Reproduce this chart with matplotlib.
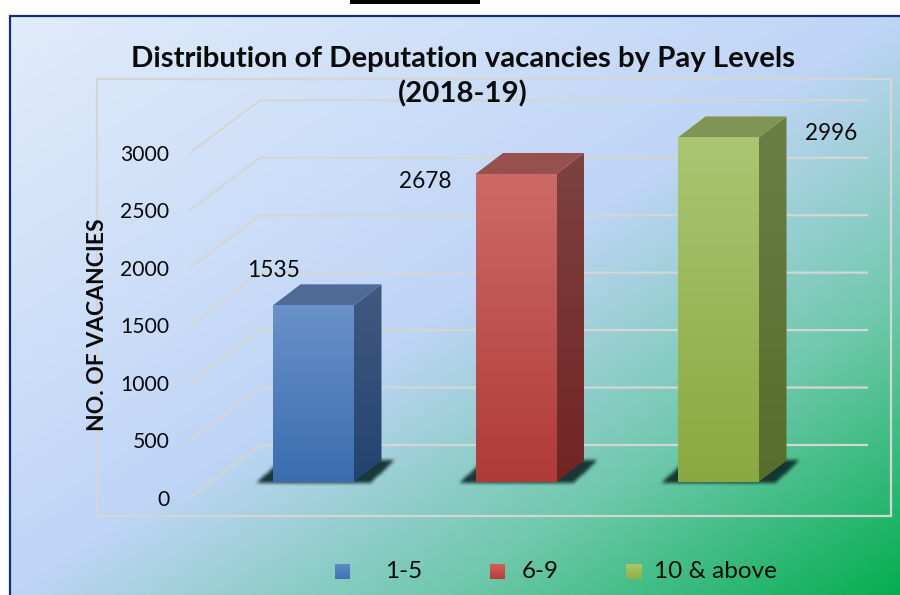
import numpy as np
import matplotlib
matplotlib.use("Agg")
import matplotlib.pyplot as plt
from matplotlib.colors import LinearSegmentedColormap, to_rgb
from matplotlib.patches import Polygon, Rectangle
from matplotlib.transforms import ScaledTranslation

# ---------- data ----------
categories = ["1-5", "6-9", "10 & above"]
values = [1535, 2678, 2996]
y_ticks = [0, 500, 1000, 1500, 2000, 2500, 3000]
title = "Distribution of Deputation vacancies by Pay Levels\n(2018-19)"
y_label = "NO. OF VACANCIES"

# ---------- style ----------
FONT = "Lato"
W, H = 900, 595
PX_PER_VAL = 57.45 / 500
PX_PER_CAT = 202.5
X0_PX, BASE_PX = 313.5, 481.7
BAR_W = 81 / PX_PER_CAT
DX, DY = 27.5 / PX_PER_CAT, 21 / PX_PER_VAL
AX_LEFT = 190
front_cols = [("#6a91c9", "#3a6daf"), ("#cc6a68", "#b03a38"), ("#a9c672", "#8aa93f")]
side_cols = [("#42597f", "#234470"), ("#7c4240", "#722424"), ("#6b7f45", "#586c2c")]
top_cols = ["#4f6b95", "#96504d", "#7f9553"]
legend_cols = [("#5f8bc9", "#3f72b4"), ("#d0605c", "#b83c3a"), ("#a9c768", "#90b048")]
legend_sw = [335, 490, 626]
legend_tx = [385.5, 522, 654]
legend_sw_w = [15, 15, 16]
label_offset = [(-40, 35), (-91, -7.5), (113, 3.5)]  # px offset from bar's top-centre
GRID = "#d4d6d4"
TICK_FS = 15.2

fig = plt.figure(figsize=(W / 100, H / 100), dpi=100, facecolor="white")

# background layer in figure pixels
bg = fig.add_axes([0, 0, 1, 1], zorder=0)
bg.set_xlim(0, W)
bg.set_ylim(H, 0)
bg.axis("off")
stops = [(0, "#e1ecfb"), (0.5, "#bfd5f6"), (0.75, "#6ec8ab"), (1, "#05ae51")]
cmap = LinearSegmentedColormap.from_list("panel", stops)
xx, yy = np.meshgrid(np.linspace(0, 1, 450), np.linspace(0, 1, 300))
bg.imshow((xx + yy) / 2, cmap=cmap, vmin=0, vmax=1, extent=(10, W, H, 15),
          aspect="auto", interpolation="bilinear")
bg.set_xlim(0, W)
bg.set_ylim(H, 0)
bg.plot([10, 10, W], [H, 15.5, 15.5], color="#0f2f78", lw=1.6, solid_joinstyle="miter")
bg.add_patch(Rectangle((350, 0), 130, 4.2, color="black", lw=0))
bg.add_patch(Rectangle((97, 79), 794, 437, fill=False, ec=GRID, lw=1.6))

# main chart axes: category / value scales
ax = fig.add_axes([AX_LEFT / W, 0, 1 - AX_LEFT / W, 1], zorder=1)
ax.patch.set_alpha(0)
xlim = ((AX_LEFT - X0_PX) / PX_PER_CAT, (W - X0_PX) / PX_PER_CAT)
ylim = ((BASE_PX - H) / PX_PER_VAL, BASE_PX / PX_PER_VAL)
ax.set_xlim(xlim)
ax.set_ylim(ylim)
for s in ax.spines.values():
    s.set_visible(False)
ax.set_xticks([])
ax.set_yticks(y_ticks)
ax.tick_params(axis="y", length=0, pad=15, labelsize=TICK_FS)
shift = ScaledTranslation(0, -15.8 / 100, fig.dpi_scale_trans)
for lab in ax.get_yticklabels():
    lab.set_fontfamily(FONT)
    lab.set_color("#0a0a0a")
    lab.set_transform(lab.get_transform() + shift)

# floor-to-wall gridlines
x_front = xlim[0]
x_back = x_front + 70 / PX_PER_CAT
x_end = (867 - X0_PX) / PX_PER_CAT
front_dv, back_dv = -15.8 / PX_PER_VAL, 36.7 / PX_PER_VAL
for t in y_ticks:
    ax.plot([x_front, x_back, x_end], [t + front_dv, t + back_dv, t + back_dv],
            color=GRID, lw=1.6, zorder=1, solid_joinstyle="miter", clip_on=False)


def grad(c1, c2, n=64):
    a, b = np.array(to_rgb(c1)), np.array(to_rgb(c2))
    return np.linspace(a, b, n)[:, None, :]


def box_blur(m, r):
    k = np.ones(2 * r + 1) / (2 * r + 1)
    m = np.apply_along_axis(lambda c: np.convolve(c, k, mode="same"), 0, m)
    return np.apply_along_axis(lambda c: np.convolve(c, k, mode="same"), 1, m)


def floor_shadow(width_px):
    """Soft parallelogram shadow, in pixels relative to the bar's base-left corner."""
    ext = (-30, width_px + 60, -10, 40)
    px, py = np.meshgrid(np.arange(ext[0], ext[1]) + 0.5, np.arange(ext[2], ext[3]) + 0.5)
    slope = 26 / 24.5   # x shift per px of height on the floor
    yb, yt = -1.5, 22.5
    left = -17 + (py - yb) * slope
    right = width_px + 16 + (py - yb) * slope
    mask = ((py > yb) & (py < yt) & (px > left) & (px < right)).astype(float)
    mask = box_blur(box_blur(mask, 2), 1)
    rgba = np.zeros(mask.shape + (4,))
    rgba[..., :3] = to_rgb("#12302f")
    rgba[..., 3] = mask * 0.95
    return rgba, ext


xs = np.arange(len(values))
bars = ax.bar(xs, values, BAR_W, color="none", lw=0, zorder=5)
for i, (x, v, b) in enumerate(zip(xs, values, bars)):
    l, r = x - BAR_W / 2, x + BAR_W / 2
    # soft floor shadow
    rgba, e = floor_shadow(81)
    ax.imshow(rgba, origin="lower", aspect="auto", zorder=2, interpolation="bilinear",
              extent=(l + e[0] / PX_PER_CAT, l + e[1] / PX_PER_CAT,
                      e[2] / PX_PER_VAL, e[3] / PX_PER_VAL))
    # front face
    im = ax.imshow(grad(*front_cols[i]), extent=(l, r, 0, v), aspect="auto", zorder=5,
                   interpolation="bilinear")
    im.set_clip_path(Rectangle((l, 0), r - l, v, transform=ax.transData))
    # side face
    side = Polygon([(r, 0), (r + DX, DY), (r + DX, v + DY), (r, v)], closed=True,
                   transform=ax.transData)
    im2 = ax.imshow(grad(*side_cols[i]), extent=(r, r + DX, 0, v + DY), aspect="auto", zorder=4,
                    interpolation="bilinear")
    im2.set_clip_path(side)
    # top face
    ax.add_patch(Polygon([(l, v), (r, v), (r + DX, v + DY), (l + DX, v + DY)], closed=True,
                         fc=top_cols[i], ec="none", zorder=4))
    # value label
    ax.annotate(str(v), (x, v), xytext=label_offset[i], textcoords="offset pixels",
                ha="center", va="center", fontsize=16.3, family=FONT, color="#0a0a0a", zorder=6)
ax.set_xlim(xlim)
ax.set_ylim(ylim)

# overlay texts and legend in figure pixels
fg = fig.add_axes([0, 0, 1, 1], zorder=2)
fg.set_xlim(0, W)
fg.set_ylim(H, 0)
fg.axis("off")
fg.patch.set_alpha(0)
fg.text(463, 77, title, ha="center", va="center", fontsize=21.2, fontweight="bold",
        family=FONT, color="#0a0a0a", linespacing=1.38)
fg.text(97, 325, y_label, rotation=90, ha="center", va="center", fontsize=16.5,
        fontweight="bold", family=FONT, color="#0a0a0a")
for cat, sx, sw, tx, cols in zip(categories, legend_sw, legend_sw_w, legend_tx, legend_cols):
    fg.imshow(grad(*cols), extent=(sx, sx + sw, 579, 564), aspect="auto",
              interpolation="bilinear")
    fg.text(tx, 571, cat, ha="left", va="center", fontsize=17.5, family=FONT, color="#0a0a0a")
fg.set_xlim(0, W)
fg.set_ylim(H, 0)

fig.savefig("out.png", dpi=100)
